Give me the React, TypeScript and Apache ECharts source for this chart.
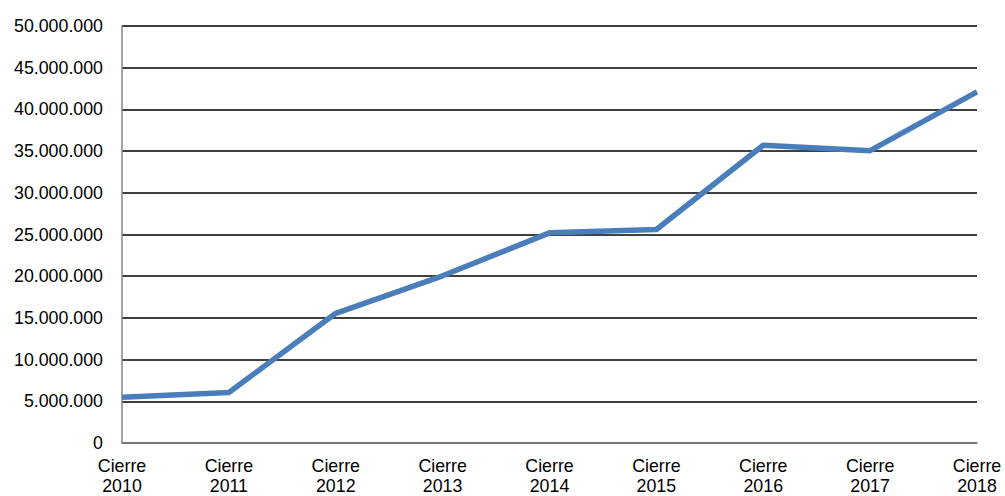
import React, { useEffect, useRef } from "react";
import * as echarts from "echarts";

const categories = ["Cierre\n2010", "Cierre\n2011", "Cierre\n2012", "Cierre\n2013", "Cierre\n2014", "Cierre\n2015", "Cierre\n2016", "Cierre\n2017", "Cierre\n2018"];
const values = [5500000, 6050000, 15550000, 20050000, 25200000, 25600000, 35700000, 35050000, 42100000];
const yMin = 0;
const yMax = 50000000;
const yInterval = 5000000;

const fmt = (v: number) => String(Math.round(v)).replace(/\B(?=(\d{3})+(?!\d))/g, ".");

export default function App() {
  const ref = useRef<HTMLDivElement>(null);
  useEffect(() => {
    document.body.style.margin = "0";
    const chart = echarts.init(ref.current!, null, { renderer: "svg" });
    chart.setOption({
      animation: false,
      textStyle: { fontFamily: "Liberation Sans, Arial, sans-serif" },
      grid: { left: 122, right: 28, top: 26, bottom: 53, containLabel: false },
      xAxis: {
        type: "category",
        data: categories,
        boundaryGap: false,
        axisLine: { lineStyle: { color: "#868686", width: 1.5 } },
        axisTick: { show: false },
        axisLabel: { color: "#000", fontSize: 17.8, lineHeight: 20, margin: 13, interval: 0 },
        splitLine: { show: false },
      },
      yAxis: {
        type: "value",
        min: yMin,
        max: yMax,
        interval: yInterval,
        axisLine: { show: true, lineStyle: { color: "#868686", width: 1.5 } },
        axisTick: { show: false },
        axisLabel: { color: "#000", fontSize: 17.8, margin: 19, formatter: fmt },
        splitLine: { lineStyle: { color: "#000", width: 1.5 } },
      },
      series: [
        {
          type: "line",
          data: values,
          symbol: "none",
          lineStyle: { color: "#4a7ebb", width: 5.5, join: "round" },
          itemStyle: { color: "#4a7ebb" },
        },
      ],
    });
    return () => chart.dispose();
  }, []);
  return <div ref={ref} style={{ width: 1005, height: 496 }} />;
}
